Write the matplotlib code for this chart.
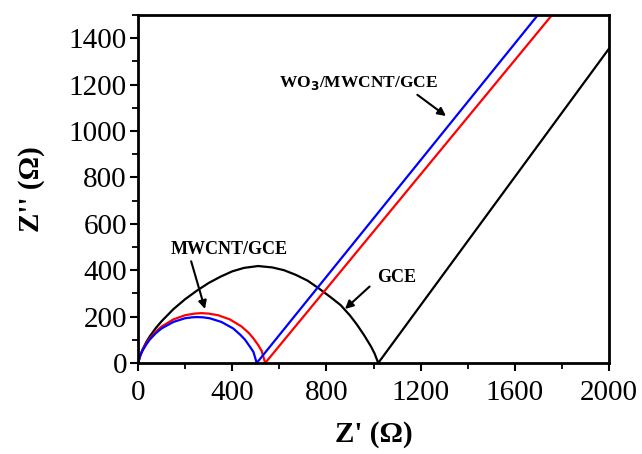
import matplotlib
matplotlib.use("Agg")
import matplotlib.pyplot as plt
from matplotlib.ticker import MultipleLocator

# GCE (black)
gce_x = [0, 10, 20, 35, 50, 75, 100, 150, 200, 250, 300, 350, 400, 450, 510, 570, 620, 670, 720, 770, 820, 860, 900, 930, 960, 990, 1005, 1020, 2000]
gce_y = [0, 35, 60, 90, 115, 150, 180, 232, 275, 312, 345, 372, 395, 410, 418, 412, 400, 380, 355, 320, 282, 250, 205, 165, 120, 70, 40, 0, 1355]

# MWCNT/GCE (red)
red_x = [0, 10, 20, 35, 50, 75, 100, 150, 200, 240, 270, 300, 340, 390, 440, 470, 490, 510, 525, 540, 1758]
red_y = [0, 35, 57, 85, 106, 135, 157, 188, 206, 213, 215, 213, 206, 188, 157, 130, 106, 78, 52, 0, 1500]

# WO3/MWCNT/GCE (blue)
blue_x = [0, 10, 20, 35, 50, 75, 100, 150, 200, 230, 252, 275, 304, 354, 404, 434, 454, 474, 490, 504, 1698]
blue_y = [0, 33, 55, 80, 101, 128, 149, 177, 193, 197, 198, 197, 193, 177, 149, 122, 101, 72, 48, 0, 1500]

x_ticks = [0, 400, 800, 1200, 1600, 2000]
y_ticks = [0, 200, 400, 600, 800, 1000, 1200, 1400]

fig = plt.figure(figsize=(6.42, 4.54), dpi=100)
ax = fig.add_axes([0.215, 0.2004, 0.7336, 0.7666])

ax.plot(gce_x, gce_y, color="black", lw=1.6)
ax.plot(red_x, red_y, color="#ff0000", lw=1.6)
ax.plot(blue_x, blue_y, color="#0000ff", lw=1.6)

ax.set_xlim(0, 2000)
ax.set_ylim(0, 1500)
ax.set_xticks(x_ticks)
ax.set_yticks(y_ticks)
ax.xaxis.set_minor_locator(MultipleLocator(200))
ax.yaxis.set_minor_locator(MultipleLocator(100))

serif = ["Liberation Serif", "DejaVu Serif"]
for lab in ax.get_xticklabels() + ax.get_yticklabels():
    lab.set_fontfamily(serif)
    lab.set_fontsize(21)

ax.tick_params(which="major", direction="out", length=6, width=1.5, pad=2)
ax.tick_params(axis="x", which="major", pad=6)
ax.tick_params(which="minor", direction="out", length=4, width=1.3)
ax.tick_params(top=False, right=False, which="both")
for s in ax.spines.values():
    s.set_linewidth(2)

ax.set_xlabel("Z' (\u03a9)", fontsize=21, fontweight="bold", family=serif, labelpad=11)
ax.set_ylabel("Z'' (\u03a9)", fontsize=21, fontweight="bold", family=serif, labelpad=17)

arrow = dict(arrowstyle="-|>", color="black", lw=1.5, mutation_scale=12, shrinkA=0, shrinkB=0)

def px(xp, yp):
    return (xp / 642, 1 - yp / 454)

ax.annotate("WO$_\\mathbf{3}$/MWCNT/GCE", xy=px(446, 116), xycoords="figure fraction",
            xytext=px(358, 83), textcoords="figure fraction",
            ha="center", va="center", fontsize=12.5, fontweight="bold", family=serif,
            arrowprops=dict(arrow, relpos=(0.85, 0.0)))
ax.annotate("MWCNT/GCE", xy=px(205, 309), xycoords="figure fraction",
            xytext=px(229, 250), textcoords="figure fraction",
            ha="center", va="center", fontsize=13, fontweight="bold", family=serif,
            arrowprops=dict(arrow, relpos=(0.17, 0.0)))
ax.annotate("GCE", xy=px(345, 309), xycoords="figure fraction",
            xytext=px(397, 278), textcoords="figure fraction",
            ha="center", va="center", fontsize=13, fontweight="bold", family=serif,
            arrowprops=dict(arrow, relpos=(-0.2, 0.0)))

fig.savefig("out.png", dpi=100)
